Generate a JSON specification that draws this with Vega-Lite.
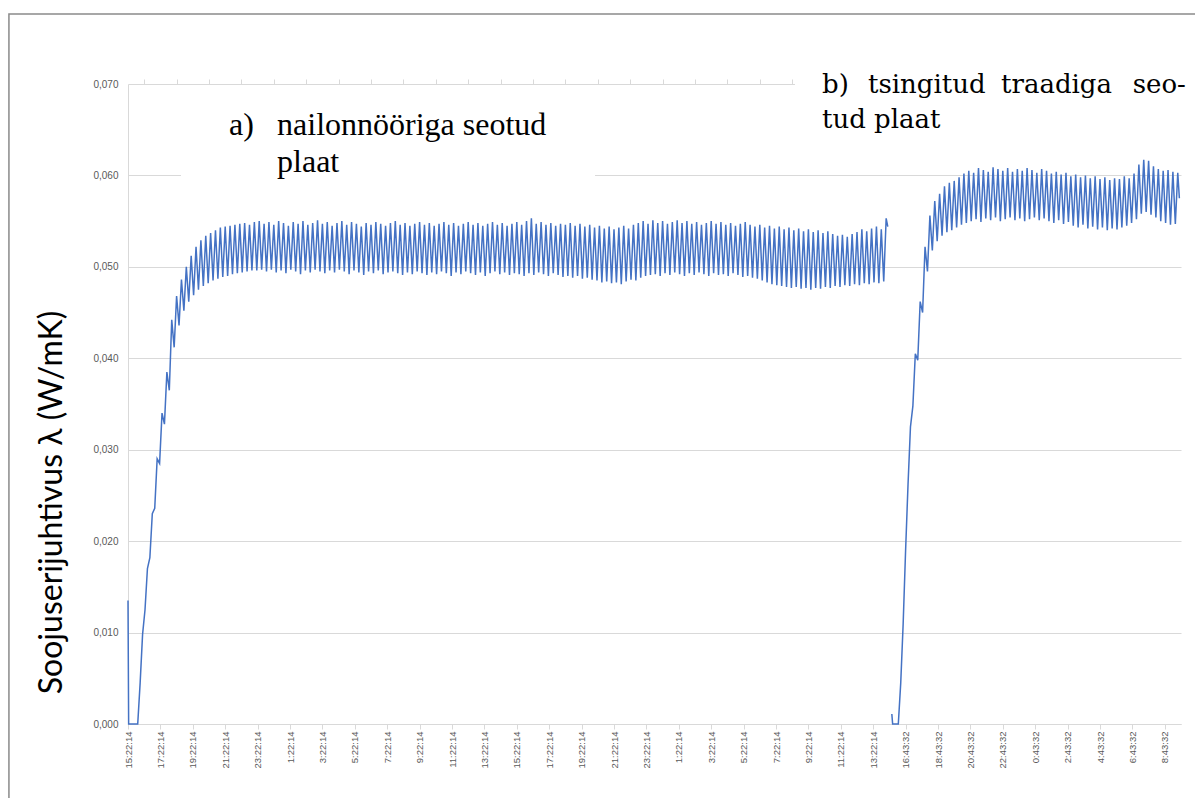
{
"$schema":"https://vega.github.io/schema/vega-lite/v6.json",
"width":1053,"height":640,
"autosize":{"type":"none"},
"padding":{"left":128,"top":84,"right":14,"bottom":74},
"background":"#ffffff",
"config":{"view":{"stroke":null}},
"resolve":{"axis":{"x":"independent"}},
"layer":[
{"data":{"values":[
{"s":"a","t":0,"v":0.0135},{"s":"a","t":0.04,"v":0},{"s":"a","t":0.6,"v":0},{"s":"a","t":0.75,"v":0.0045},{"s":"a","t":0.9,"v":0.0098},{"s":"a","t":1.05,"v":0.0125},{"s":"a","t":1.2,"v":0.017},{"s":"a","t":1.35,"v":0.0182},{"s":"a","t":1.5,"v":0.023},{"s":"a","t":1.65,"v":0.0236},{"s":"a","t":1.8,"v":0.029},{"s":"a","t":1.95,"v":0.0285},{"s":"a","t":2.1,"v":0.034},{"s":"a","t":2.25,"v":0.0328},{"s":"a","t":2.4,"v":0.0385},{"s":"a","t":2.55,"v":0.0365},{"s":"a","t":2.7,"v":0.0442},{"s":"a","t":2.85,"v":0.0412},
{"s":"a","t":3,"v":0.0468},{"s":"a","t":3.15,"v":0.0436},{"s":"a","t":3.3,"v":0.0486},{"s":"a","t":3.45,"v":0.0452},{"s":"a","t":3.6,"v":0.05},{"s":"a","t":3.75,"v":0.0462},{"s":"a","t":3.9,"v":0.0512},{"s":"a","t":4.05,"v":0.0469},{"s":"a","t":4.2,"v":0.0522},{"s":"a","t":4.35,"v":0.0475},{"s":"a","t":4.5,"v":0.0529},{"s":"a","t":4.65,"v":0.0479},{"s":"a","t":4.8,"v":0.0534},{"s":"a","t":4.95,"v":0.0482},{"s":"a","t":5.1,"v":0.0537},{"s":"a","t":5.25,"v":0.0485},{"s":"a","t":5.4,"v":0.054},{"s":"a","t":5.55,"v":0.0487},{"s":"a","t":5.7,"v":0.0543},{"s":"a","t":5.85,"v":0.0489},
{"s":"a","t":6,"v":0.0544},{"s":"a","t":6.15,"v":0.049},{"s":"a","t":6.3,"v":0.0545},{"s":"a","t":6.45,"v":0.0492},{"s":"a","t":6.6,"v":0.0546},{"s":"a","t":6.75,"v":0.0493},{"s":"a","t":6.9,"v":0.0547},{"s":"a","t":7.05,"v":0.0494},{"s":"a","t":7.2,"v":0.0548},{"s":"a","t":7.35,"v":0.0495},{"s":"a","t":7.5,"v":0.0546},{"s":"a","t":7.65,"v":0.0496},{"s":"a","t":7.8,"v":0.0549},{"s":"a","t":7.95,"v":0.0496},{"s":"a","t":8.1,"v":0.055},{"s":"a","t":8.25,"v":0.0497},{"s":"a","t":8.4,"v":0.0547},{"s":"a","t":8.55,"v":0.0495},{"s":"a","t":8.7,"v":0.0549},{"s":"a","t":8.85,"v":0.0497},
{"s":"a","t":9,"v":0.0546},{"s":"a","t":9.15,"v":0.0494},{"s":"a","t":9.3,"v":0.055},{"s":"a","t":9.45,"v":0.0496},{"s":"a","t":9.6,"v":0.0548},{"s":"a","t":9.75,"v":0.0493},{"s":"a","t":9.9,"v":0.0545},{"s":"a","t":10.05,"v":0.0497},{"s":"a","t":10.2,"v":0.0549},{"s":"a","t":10.35,"v":0.0495},{"s":"a","t":10.5,"v":0.0547},{"s":"a","t":10.65,"v":0.0492},{"s":"a","t":10.8,"v":0.055},{"s":"a","t":10.95,"v":0.0496},{"s":"a","t":11.1,"v":0.0546},{"s":"a","t":11.25,"v":0.0494},{"s":"a","t":11.4,"v":0.0548},{"s":"a","t":11.55,"v":0.0497},{"s":"a","t":11.7,"v":0.0551},{"s":"a","t":11.85,"v":0.0495},
{"s":"a","t":12,"v":0.0547},{"s":"a","t":12.15,"v":0.0493},{"s":"a","t":12.3,"v":0.0549},{"s":"a","t":12.45,"v":0.0496},{"s":"a","t":12.6,"v":0.0545},{"s":"a","t":12.75,"v":0.0494},{"s":"a","t":12.9,"v":0.0548},{"s":"a","t":13.05,"v":0.0497},{"s":"a","t":13.2,"v":0.055},{"s":"a","t":13.35,"v":0.0495},{"s":"a","t":13.5,"v":0.0546},{"s":"a","t":13.65,"v":0.0492},{"s":"a","t":13.8,"v":0.0549},{"s":"a","t":13.95,"v":0.0496},{"s":"a","t":14.1,"v":0.0547},{"s":"a","t":14.25,"v":0.0494},{"s":"a","t":14.4,"v":0.0544},{"s":"a","t":14.55,"v":0.0491},{"s":"a","t":14.7,"v":0.0548},{"s":"a","t":14.85,"v":0.0495},
{"s":"a","t":15,"v":0.0546},{"s":"a","t":15.15,"v":0.0493},{"s":"a","t":15.3,"v":0.0549},{"s":"a","t":15.45,"v":0.0496},{"s":"a","t":15.6,"v":0.0547},{"s":"a","t":15.75,"v":0.0492},{"s":"a","t":15.9,"v":0.0545},{"s":"a","t":16.05,"v":0.0494},{"s":"a","t":16.2,"v":0.0548},{"s":"a","t":16.35,"v":0.0495},{"s":"a","t":16.5,"v":0.055},{"s":"a","t":16.65,"v":0.0493},{"s":"a","t":16.8,"v":0.0546},{"s":"a","t":16.95,"v":0.0491},{"s":"a","t":17.1,"v":0.0548},{"s":"a","t":17.25,"v":0.0494},{"s":"a","t":17.4,"v":0.0545},{"s":"a","t":17.55,"v":0.0492},{"s":"a","t":17.7,"v":0.0547},{"s":"a","t":17.85,"v":0.0495},
{"s":"a","t":18,"v":0.0549},{"s":"a","t":18.15,"v":0.0493},{"s":"a","t":18.3,"v":0.0546},{"s":"a","t":18.45,"v":0.0491},{"s":"a","t":18.6,"v":0.0548},{"s":"a","t":18.75,"v":0.0494},{"s":"a","t":18.9,"v":0.0545},{"s":"a","t":19.05,"v":0.0492},{"s":"a","t":19.2,"v":0.0547},{"s":"a","t":19.35,"v":0.0495},{"s":"a","t":19.5,"v":0.0549},{"s":"a","t":19.65,"v":0.0493},{"s":"a","t":19.8,"v":0.0546},{"s":"a","t":19.95,"v":0.049},{"s":"a","t":20.1,"v":0.0548},{"s":"a","t":20.25,"v":0.0494},{"s":"a","t":20.4,"v":0.0545},{"s":"a","t":20.55,"v":0.0492},{"s":"a","t":20.7,"v":0.0547},{"s":"a","t":20.85,"v":0.0495},
{"s":"a","t":21,"v":0.0549},{"s":"a","t":21.15,"v":0.0493},{"s":"a","t":21.3,"v":0.0546},{"s":"a","t":21.45,"v":0.0491},{"s":"a","t":21.6,"v":0.0548},{"s":"a","t":21.75,"v":0.0494},{"s":"a","t":21.9,"v":0.0545},{"s":"a","t":22.05,"v":0.049},{"s":"a","t":22.2,"v":0.0547},{"s":"a","t":22.35,"v":0.0493},{"s":"a","t":22.5,"v":0.0549},{"s":"a","t":22.65,"v":0.0495},{"s":"a","t":22.8,"v":0.0546},{"s":"a","t":22.95,"v":0.0492},{"s":"a","t":23.1,"v":0.0548},{"s":"a","t":23.25,"v":0.0494},{"s":"a","t":23.4,"v":0.0545},{"s":"a","t":23.55,"v":0.0491},{"s":"a","t":23.7,"v":0.0547},{"s":"a","t":23.85,"v":0.0493},
{"s":"a","t":24,"v":0.0549},{"s":"a","t":24.15,"v":0.0492},{"s":"a","t":24.3,"v":0.0546},{"s":"a","t":24.45,"v":0.049},{"s":"a","t":24.6,"v":0.055},{"s":"a","t":24.75,"v":0.0493},{"s":"a","t":24.9,"v":0.0553},{"s":"a","t":25.05,"v":0.0491},{"s":"a","t":25.2,"v":0.0547},{"s":"a","t":25.35,"v":0.0494},{"s":"a","t":25.5,"v":0.0549},{"s":"a","t":25.65,"v":0.0492},{"s":"a","t":25.8,"v":0.0546},{"s":"a","t":25.95,"v":0.049},{"s":"a","t":26.1,"v":0.0548},{"s":"a","t":26.25,"v":0.0493},{"s":"a","t":26.4,"v":0.0545},{"s":"a","t":26.55,"v":0.0491},{"s":"a","t":26.7,"v":0.0547},{"s":"a","t":26.85,"v":0.0489},
{"s":"a","t":27,"v":0.0546},{"s":"a","t":27.15,"v":0.049},{"s":"a","t":27.3,"v":0.0548},{"s":"a","t":27.45,"v":0.0488},{"s":"a","t":27.6,"v":0.0545},{"s":"a","t":27.75,"v":0.049},{"s":"a","t":27.9,"v":0.0547},{"s":"a","t":28.05,"v":0.0487},{"s":"a","t":28.2,"v":0.0544},{"s":"a","t":28.35,"v":0.0488},{"s":"a","t":28.5,"v":0.0546},{"s":"a","t":28.65,"v":0.0486},{"s":"a","t":28.8,"v":0.0543},{"s":"a","t":28.95,"v":0.0485},{"s":"a","t":29.1,"v":0.0545},{"s":"a","t":29.25,"v":0.0483},{"s":"a","t":29.4,"v":0.0542},{"s":"a","t":29.55,"v":0.0484},{"s":"a","t":29.7,"v":0.0544},{"s":"a","t":29.85,"v":0.0482},
{"s":"a","t":30,"v":0.0541},{"s":"a","t":30.15,"v":0.0483},{"s":"a","t":30.3,"v":0.0543},{"s":"a","t":30.45,"v":0.0481},{"s":"a","t":30.6,"v":0.0545},{"s":"a","t":30.75,"v":0.0484},{"s":"a","t":30.9,"v":0.0542},{"s":"a","t":31.05,"v":0.0486},{"s":"a","t":31.2,"v":0.0546},{"s":"a","t":31.35,"v":0.0485},{"s":"a","t":31.5,"v":0.0548},{"s":"a","t":31.65,"v":0.0488},{"s":"a","t":31.8,"v":0.055},{"s":"a","t":31.95,"v":0.049},{"s":"a","t":32.1,"v":0.0547},{"s":"a","t":32.25,"v":0.0491},{"s":"a","t":32.4,"v":0.0551},{"s":"a","t":32.55,"v":0.0492},{"s":"a","t":32.7,"v":0.0548},{"s":"a","t":32.85,"v":0.049},
{"s":"a","t":33,"v":0.055},{"s":"a","t":33.15,"v":0.0493},{"s":"a","t":33.3,"v":0.0547},{"s":"a","t":33.45,"v":0.0491},{"s":"a","t":33.6,"v":0.0549},{"s":"a","t":33.75,"v":0.0494},{"s":"a","t":33.9,"v":0.0551},{"s":"a","t":34.05,"v":0.0492},{"s":"a","t":34.2,"v":0.0548},{"s":"a","t":34.35,"v":0.049},{"s":"a","t":34.5,"v":0.055},{"s":"a","t":34.65,"v":0.0493},{"s":"a","t":34.8,"v":0.0547},{"s":"a","t":34.95,"v":0.0491},{"s":"a","t":35.1,"v":0.0549},{"s":"a","t":35.25,"v":0.0494},{"s":"a","t":35.4,"v":0.0546},{"s":"a","t":35.55,"v":0.0492},{"s":"a","t":35.7,"v":0.0548},{"s":"a","t":35.85,"v":0.049},
{"s":"a","t":36,"v":0.055},{"s":"a","t":36.15,"v":0.0493},{"s":"a","t":36.3,"v":0.0547},{"s":"a","t":36.45,"v":0.0491},{"s":"a","t":36.6,"v":0.0549},{"s":"a","t":36.75,"v":0.0492},{"s":"a","t":36.9,"v":0.0546},{"s":"a","t":37.05,"v":0.049},{"s":"a","t":37.2,"v":0.0548},{"s":"a","t":37.35,"v":0.0493},{"s":"a","t":37.5,"v":0.0545},{"s":"a","t":37.65,"v":0.0491},{"s":"a","t":37.8,"v":0.0547},{"s":"a","t":37.95,"v":0.0489},{"s":"a","t":38.1,"v":0.0549},{"s":"a","t":38.25,"v":0.049},{"s":"a","t":38.4,"v":0.0546},{"s":"a","t":38.55,"v":0.0488},{"s":"a","t":38.7,"v":0.0544},{"s":"a","t":38.85,"v":0.0487},
{"s":"a","t":39,"v":0.0546},{"s":"a","t":39.15,"v":0.0485},{"s":"a","t":39.3,"v":0.0543},{"s":"a","t":39.45,"v":0.0483},{"s":"a","t":39.6,"v":0.0545},{"s":"a","t":39.75,"v":0.0481},{"s":"a","t":39.9,"v":0.0542},{"s":"a","t":40.05,"v":0.048},{"s":"a","t":40.2,"v":0.0544},{"s":"a","t":40.35,"v":0.0479},{"s":"a","t":40.5,"v":0.0541},{"s":"a","t":40.65,"v":0.0478},{"s":"a","t":40.8,"v":0.0543},{"s":"a","t":40.95,"v":0.0477},{"s":"a","t":41.1,"v":0.054},{"s":"a","t":41.25,"v":0.0478},{"s":"a","t":41.4,"v":0.0542},{"s":"a","t":41.55,"v":0.0476},{"s":"a","t":41.7,"v":0.0539},{"s":"a","t":41.85,"v":0.0477},
{"s":"a","t":42,"v":0.0541},{"s":"a","t":42.15,"v":0.0475},{"s":"a","t":42.3,"v":0.0538},{"s":"a","t":42.45,"v":0.0477},{"s":"a","t":42.6,"v":0.054},{"s":"a","t":42.75,"v":0.0476},{"s":"a","t":42.9,"v":0.0537},{"s":"a","t":43.05,"v":0.0478},{"s":"a","t":43.2,"v":0.0539},{"s":"a","t":43.35,"v":0.0477},{"s":"a","t":43.5,"v":0.0536},{"s":"a","t":43.65,"v":0.0479},{"s":"a","t":43.8,"v":0.0534},{"s":"a","t":43.95,"v":0.0478},{"s":"a","t":44.1,"v":0.0535},{"s":"a","t":44.25,"v":0.048},{"s":"a","t":44.4,"v":0.0533},{"s":"a","t":44.55,"v":0.0479},{"s":"a","t":44.7,"v":0.0536},{"s":"a","t":44.85,"v":0.0481},
{"s":"a","t":45,"v":0.0538},{"s":"a","t":45.15,"v":0.048},{"s":"a","t":45.3,"v":0.0541},{"s":"a","t":45.45,"v":0.0482},{"s":"a","t":45.6,"v":0.0539},{"s":"a","t":45.75,"v":0.0481},{"s":"a","t":45.9,"v":0.0542},{"s":"a","t":46.05,"v":0.0483},{"s":"a","t":46.2,"v":0.0544},{"s":"a","t":46.35,"v":0.0482},{"s":"a","t":46.5,"v":0.0541},{"s":"a","t":46.65,"v":0.0484},{"s":"a","t":46.8,"v":0.0553},{"s":"a","t":46.9,"v":0.0544},
{"s":"b","t":47.15,"v":0.0011},{"s":"b","t":47.2,"v":0},{"s":"b","t":47.55,"v":0},{"s":"b","t":47.7,"v":0.0045},{"s":"b","t":47.85,"v":0.011},{"s":"b","t":48,"v":0.019},{"s":"b","t":48.15,"v":0.0262},{"s":"b","t":48.3,"v":0.0325},{"s":"b","t":48.45,"v":0.0348},{"s":"b","t":48.6,"v":0.0405},{"s":"b","t":48.75,"v":0.0398},{"s":"b","t":48.9,"v":0.0462},
{"s":"b","t":49.05,"v":0.045},{"s":"b","t":49.2,"v":0.0522},{"s":"b","t":49.35,"v":0.0495},{"s":"b","t":49.5,"v":0.0556},{"s":"b","t":49.65,"v":0.0518},{"s":"b","t":49.8,"v":0.0572},{"s":"b","t":49.95,"v":0.0528},{"s":"b","t":50.1,"v":0.058},{"s":"b","t":50.25,"v":0.0534},{"s":"b","t":50.4,"v":0.0588},{"s":"b","t":50.55,"v":0.0538},{"s":"b","t":50.7,"v":0.0592},{"s":"b","t":50.85,"v":0.054},
{"s":"b","t":51,"v":0.0594},{"s":"b","t":51.15,"v":0.0543},{"s":"b","t":51.3,"v":0.0598},{"s":"b","t":51.45,"v":0.0546},{"s":"b","t":51.6,"v":0.0602},{"s":"b","t":51.75,"v":0.0548},{"s":"b","t":51.9,"v":0.0605},{"s":"b","t":52.05,"v":0.055},{"s":"b","t":52.2,"v":0.0603},{"s":"b","t":52.35,"v":0.0552},{"s":"b","t":52.5,"v":0.0608},{"s":"b","t":52.65,"v":0.0549},{"s":"b","t":52.8,"v":0.0606},{"s":"b","t":52.95,"v":0.0553},{"s":"b","t":53.1,"v":0.0604},{"s":"b","t":53.25,"v":0.0551},{"s":"b","t":53.4,"v":0.0609},{"s":"b","t":53.55,"v":0.0554},{"s":"b","t":53.7,"v":0.0607},{"s":"b","t":53.85,"v":0.055},
{"s":"b","t":54,"v":0.0605},{"s":"b","t":54.15,"v":0.0552},{"s":"b","t":54.3,"v":0.0608},{"s":"b","t":54.45,"v":0.0554},{"s":"b","t":54.6,"v":0.0604},{"s":"b","t":54.75,"v":0.0551},{"s":"b","t":54.9,"v":0.0607},{"s":"b","t":55.05,"v":0.0553},{"s":"b","t":55.2,"v":0.0605},{"s":"b","t":55.35,"v":0.055},{"s":"b","t":55.5,"v":0.0608},{"s":"b","t":55.65,"v":0.0552},{"s":"b","t":55.8,"v":0.0606},{"s":"b","t":55.95,"v":0.0554},{"s":"b","t":56.1,"v":0.0603},{"s":"b","t":56.25,"v":0.0551},{"s":"b","t":56.4,"v":0.0607},{"s":"b","t":56.55,"v":0.0553},{"s":"b","t":56.7,"v":0.0605},{"s":"b","t":56.85,"v":0.055},
{"s":"b","t":57,"v":0.0602},{"s":"b","t":57.15,"v":0.0548},{"s":"b","t":57.3,"v":0.0604},{"s":"b","t":57.45,"v":0.0551},{"s":"b","t":57.6,"v":0.0601},{"s":"b","t":57.75,"v":0.0547},{"s":"b","t":57.9,"v":0.0603},{"s":"b","t":58.05,"v":0.0549},{"s":"b","t":58.2,"v":0.0599},{"s":"b","t":58.35,"v":0.0545},{"s":"b","t":58.5,"v":0.0601},{"s":"b","t":58.65,"v":0.0543},{"s":"b","t":58.8,"v":0.0598},{"s":"b","t":58.95,"v":0.0546},{"s":"b","t":59.1,"v":0.06},{"s":"b","t":59.25,"v":0.0542},{"s":"b","t":59.4,"v":0.0597},{"s":"b","t":59.55,"v":0.0544},{"s":"b","t":59.7,"v":0.0599},{"s":"b","t":59.85,"v":0.0541},
{"s":"b","t":60,"v":0.0596},{"s":"b","t":60.15,"v":0.0543},{"s":"b","t":60.3,"v":0.0598},{"s":"b","t":60.45,"v":0.054},{"s":"b","t":60.6,"v":0.0595},{"s":"b","t":60.75,"v":0.0542},{"s":"b","t":60.9,"v":0.0597},{"s":"b","t":61.05,"v":0.0541},{"s":"b","t":61.2,"v":0.0596},{"s":"b","t":61.35,"v":0.0543},{"s":"b","t":61.5,"v":0.0599},{"s":"b","t":61.65,"v":0.0545},{"s":"b","t":61.8,"v":0.0597},{"s":"b","t":61.95,"v":0.0548},{"s":"b","t":62.1,"v":0.0602},{"s":"b","t":62.25,"v":0.0552},{"s":"b","t":62.4,"v":0.0612},{"s":"b","t":62.55,"v":0.0558},{"s":"b","t":62.7,"v":0.0617},{"s":"b","t":62.85,"v":0.056},
{"s":"b","t":63,"v":0.0616},{"s":"b","t":63.15,"v":0.0557},{"s":"b","t":63.3,"v":0.061},{"s":"b","t":63.45,"v":0.0554},{"s":"b","t":63.6,"v":0.0607},{"s":"b","t":63.75,"v":0.055},{"s":"b","t":63.9,"v":0.0605},{"s":"b","t":64.05,"v":0.0548},{"s":"b","t":64.2,"v":0.0606},{"s":"b","t":64.35,"v":0.0546},{"s":"b","t":64.5,"v":0.0604},{"s":"b","t":64.65,"v":0.0547},{"s":"b","t":64.8,"v":0.0603},{"s":"b","t":64.9,"v":0.0575}
]},
 "mark":{"type":"line","color":"#4472C4","strokeWidth":1.5},
 "encoding":{
  "x":{"field":"t","type":"quantitative","scale":{"domain":[0,65],"nice":false,"zero":false},
   "axis":{"title":null,"grid":false,"values":[0,2,4,6,8,10,12,14,16,18,20,22,24,26,28,30,32,34,36,38,40,42,44,46,48,50,52,54,56,58,60,62,64],
    "labelExpr":"datum.value <= 46 ? ((15 + datum.value) % 24) + ':22:14' : ((datum.value - 32) % 24) + ':43:32'",
    "labelAngle":270,"labelAlign":"right","labelBaseline":"middle","labelFont":"Liberation Sans","labelFontSize":9.5,"labelColor":"#595959","labelPadding":2,"labelOverlap":false,"labelFlush":false,
    "domainColor":"#d9d9d9","tickColor":"#d9d9d9","tickSize":5}},
  "y":{"field":"v","type":"quantitative","scale":{"domain":[0,0.07],"nice":false,"zero":true},
   "axis":{"values":[0,0.01,0.02,0.03,0.04,0.05,0.06,0.07],"labelExpr":"replace(format(datum.value,'.3f'),'.',',')",
    "grid":true,"gridColor":"#d9d9d9","domainColor":"#d9d9d9","ticks":false,"labelPadding":10,"labelFont":"Liberation Sans","labelFontSize":10,"labelColor":"#595959",
    "title":"Soojuserijuhtivus λ (W/mK)","titleFont":"Lato","titleFontSize":32,"titleFontWeight":"normal","titleColor":"#000000",
    "titleAngle":270,"titleX":-67,"titleY":418,"titleAlign":"center","titleBaseline":"alphabetic"}},
  "detail":{"field":"s"}
 }},
{"data":{"values":[{}]},"mark":{"type":"rect","filled":false,"color":"#8a8a8a","strokeWidth":1.5,"clip":false},
 "encoding":{"x":{"datum":-7.35,"axis":{"title":null,"values":[1,3,5,7,9,11,13,15,17,19,21,23,25,27,29,31,33,35,37,39,41,43,45,47,49,51,53,55,57,59,61,63,65],"labels":false,"domain":false,"grid":false,"ticks":true,"tickColor":"#d9d9d9","tickSize":5}},"x2":{"datum":70},"y":{"datum":0.07766},"y2":{"datum":-0.012}}},
{"data":{"values":[{}]},"mark":{"type":"rect","color":"#ffffff","clip":false},
 "encoding":{"x":{"datum":3.27,"axis":null},"x2":{"datum":28.83},"y":{"datum":0.0584},"y2":{"datum":0.0677}}},
{"data":{"values":[{}]},"mark":{"type":"rect","color":"#ffffff","clip":false},
 "encoding":{"x":{"datum":41.17,"axis":null},"x2":{"datum":70},"y":{"datum":0.0639},"y2":{"datum":0.0755}}},
{"data":{"values":[{}]},"mark":{"type":"text","text":"a)","font":"Liberation Serif","fontSize":32,"align":"left","baseline":"alphabetic","color":"#000000","clip":false},
 "encoding":{"x":{"datum":6.23,"axis":null},"y":{"datum":0.06442}}},
{"data":{"values":[{}]},"mark":{"type":"text","text":"nailonnööriga seotud","font":"Liberation Serif","fontSize":32,"align":"left","baseline":"alphabetic","color":"#000000","clip":false},
 "encoding":{"x":{"datum":9.2,"axis":null},"y":{"datum":0.06442}}},
{"data":{"values":[{}]},"mark":{"type":"text","text":"plaat","font":"Liberation Serif","fontSize":32,"align":"left","baseline":"alphabetic","color":"#000000","clip":false},
 "encoding":{"x":{"datum":9.2,"axis":null},"y":{"datum":0.06037}}},
{"data":{"values":[{}]},"mark":{"type":"text","text":"b)","font":"DejaVu Serif","fontSize":26,"align":"left","baseline":"alphabetic","color":"#000000","clip":false},
 "encoding":{"x":{"datum":42.84,"axis":null},"y":{"datum":0.06901}}},
{"data":{"values":[{}]},"mark":{"type":"text","text":"tsingitud","font":"DejaVu Serif","fontSize":26,"align":"left","baseline":"alphabetic","color":"#000000","clip":false},
 "encoding":{"x":{"datum":45.68,"axis":null},"y":{"datum":0.06901}}},
{"data":{"values":[{}]},"mark":{"type":"text","text":"traadiga","font":"DejaVu Serif","fontSize":26,"align":"left","baseline":"alphabetic","color":"#000000","clip":false},
 "encoding":{"x":{"datum":53.89,"axis":null},"y":{"datum":0.06901}}},
{"data":{"values":[{}]},"mark":{"type":"text","text":"seo-","font":"DejaVu Serif","fontSize":26,"align":"right","baseline":"alphabetic","color":"#000000","clip":false},
 "encoding":{"x":{"datum":65.3,"axis":null},"y":{"datum":0.06901}}},
{"data":{"values":[{}]},"mark":{"type":"text","text":"tud plaat","font":"DejaVu Serif","fontSize":26,"align":"left","baseline":"alphabetic","color":"#000000","clip":false},
 "encoding":{"x":{"datum":42.84,"axis":null},"y":{"datum":0.06519}}}
]
}
